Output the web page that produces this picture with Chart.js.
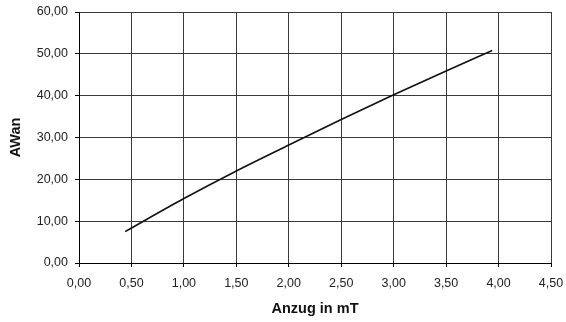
<!DOCTYPE html>
<html>
<head>
<meta charset="utf-8">
<script src="https://cdn.jsdelivr.net/npm/chart.js@4/dist/chart.umd.min.js"></script>
<style>
  html, body { margin: 0; padding: 0; background: #fff; }
  #wrap { width: 566px; height: 322px; }
</style>
</head>
<body>
<div id="wrap"><canvas id="chart" width="566" height="322"></canvas></div>
<script>
// values
const anzug = [0.44, 1.00, 1.50, 2.00, 2.50, 3.00, 3.50, 3.94];
const awan  = [7.5, 15.4, 22.0, 28.2, 34.3, 40.2, 45.9, 50.8];
const xTicks = [0, 0.5, 1, 1.5, 2, 2.5, 3, 3.5, 4, 4.5];
const yTicks = [0, 10, 20, 30, 40, 50, 60];

const fmt = v => v.toFixed(2).replace('.', ',');
const tickFont = { family: 'Liberation Sans, Arial, sans-serif', size: 12.5 };
const titleFont = { family: 'Liberation Sans, Arial, sans-serif', size: 14.5, weight: 'bold' };

new Chart(document.getElementById('chart').getContext('2d'), {
    type: 'scatter',
    data: {
        datasets: [{
            label: 'AWan',
            data: anzug.map((x, i) => ({ x: x, y: awan[i] })),
            showLine: true,
            borderColor: '#111',
            borderWidth: 1.6,
            pointRadius: 0,
            cubicInterpolationMode: 'monotone'
        }]
    },
    options: {
        responsive: false,
        animation: false,
        layout: { padding: { left: 0, top: 12, right: 15, bottom: 0 } },
        plugins: { legend: { display: false }, tooltip: { enabled: false } },
        scales: {
            x: {
                type: 'linear', min: 0, max: 4.5,
                afterBuildTicks: s => { s.ticks = xTicks.map(v => ({ value: v })); },
                afterFit: s => { s.height = 59; s.paddingLeft = 0; s.paddingRight = 0; },
                grid: { color: '#3a3a3a', lineWidth: 1, tickLength: 4, tickColor: '#000' },
                border: { color: '#000', width: 1 },
                ticks: { color: '#222', font: tickFont, padding: 9, maxRotation: 0, callback: v => fmt(v) },
                title: { display: true, text: 'Anzug in mT', color: '#111', font: titleFont, padding: 4 }
            },
            y: {
                type: 'linear', min: 0, max: 60,
                afterBuildTicks: s => { s.ticks = yTicks.map(v => ({ value: v })); },
                afterFit: s => { s.width = 79; s.paddingTop = 0; s.paddingBottom = 0; },
                grid: { color: '#3a3a3a', lineWidth: 1, tickLength: 4, tickColor: '#000' },
                border: { color: '#000', width: 1 },
                ticks: { color: '#222', font: tickFont, padding: 7, callback: v => fmt(v) },
                title: { display: true, text: 'AWan', color: '#111', font: titleFont, padding: 7 }
            }
        }
    }
});
</script>
</body>
</html>
